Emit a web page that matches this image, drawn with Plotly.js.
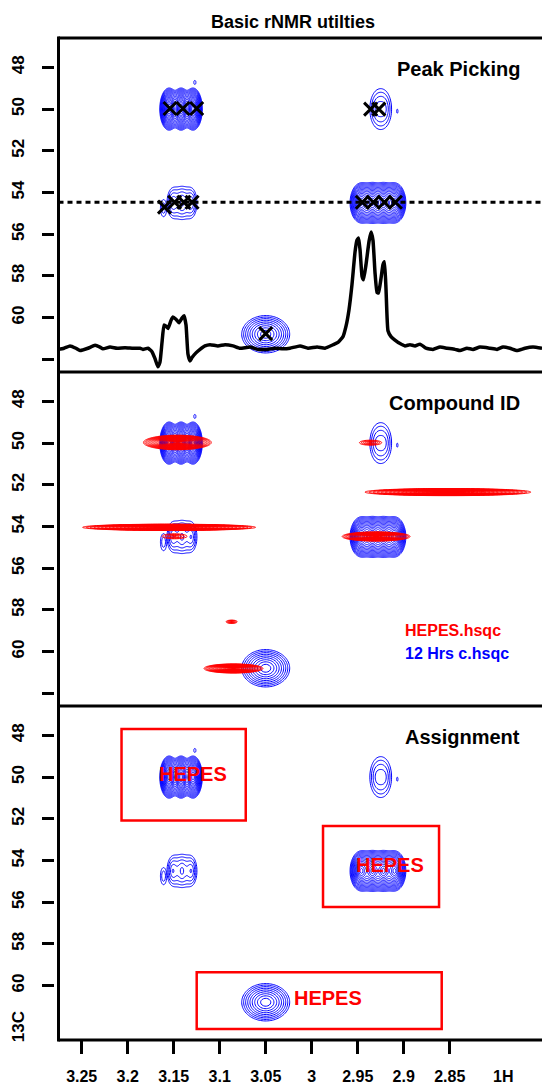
<!DOCTYPE html>
<html><head><meta charset="utf-8">
<script src="https://cdn.plot.ly/plotly-3.0.1.min.js"></script>
<style>html,body{margin:0;padding:0;background:#fff;} #chart{width:542px;height:1087px;}</style>
</head><body><div id="chart"></div>
<script>
// ---------------- data ----------------
const chartTitle = 'Basic rNMR utilties';
const panelTitles = ['Peak Picking', 'Compound ID', 'Assignment'];
const xTickVals = [3.25, 3.2, 3.15, 3.1, 3.05, 3.0, 2.95, 2.9, 2.85];
const xTickText = ['3.25', '3.2', '3.15', '3.1', '3.05', '3', '2.95', '2.9', '2.85'];
const yTickVals = [48, 50, 52, 54, 56, 58, 60, 62];
const yTickText = ['48', '50', '52', '54', '56', '58', '60', ''];
const yTickVals3 = [48, 50, 52, 54, 56, 58, 60];
const yTickText3 = ['48', '50', '52', '54', '56', '58', '60'];
const xAxisName = '1H';
const yAxisName = '13C';

// 12 Hrs c.hsqc (blue) peak lobes
const hsqcPeakId   = ['A','A','A','A0','B','B','B','B0','C','C','C0','D','D','D','D','E'];
const hsqcPeak1H   = [3.155,3.142,3.129,3.127, 3.151,3.141,3.131,3.161, 2.929,2.921,2.907, 2.946,2.934,2.922,2.910, 3.050];
const hsqcPeak13C  = [50.0,50.0,50.0,48.72, 54.5,54.5,54.5,54.75, 50.0,50.0,50.1, 54.5,54.5,54.5,54.5, 60.8];
const hsqcWidth1H  = [0.0033,0.0033,0.0033,0.003, 0.0055,0.0055,0.0055,0.005, 0.008,0.008,0.002, 0.0045,0.0045,0.0045,0.0045, 0.0128];
const hsqcWidth13C = [0.33,0.33,0.33,0.25, 0.6,0.6,0.6,0.6, 0.8,0.8,0.25, 0.35,0.35,0.35,0.35, 0.44];
const hsqcHeight   = [120,120,120,1.3, 3.2,3.2,3.2,1.8, 2.2,2.2,1.3, 60,60,60,60, 15];

// HEPES.hsqc (red) peaks
const hepesPeakId   = ['R1','R2','R2b','R3','R4','R5','R6','R7'];
const hepesPeak1H   = [3.146, 3.155, 3.149, 2.936, 2.852, 2.930, 3.087, 3.085];
const hepesPeak13C  = [49.97, 54.04, 54.47, 49.98, 52.35, 54.48, 58.57, 60.81];
const hepesWidth1H  = [0.008, 0.0204, 0.0148, 0.011, 0.022, 0.008, 0.0055, 0.0073];
const hepesWidth13C = [0.076, 0.033, 0.13, 0.11, 0.042, 0.048, 0.073, 0.05];
const hepesHeight   = [100, 100, 2.5, 3, 60, 100, 3, 80];

// picked peaks (X markers)
const pick1H  = [3.154,3.140,3.125, 3.160,3.149,3.139,3.130, 2.936,2.927, 2.945,2.933,2.921,2.909, 3.050];
const pick13C = [49.97,49.97,49.97, 54.70,54.47,54.47,54.47, 50.0,50.0, 54.47,54.47,54.47,54.47, 60.77];

// 1D slice at 13C = 54.47
const slice13C = 54.47;
const slice1H = [3.2758,3.2692,3.2627,3.2562,3.2518,3.2432,3.2355,3.2301,3.2268,3.2192,3.2116,3.2029,3.1942,3.1866,3.1834,3.1779,3.1736,3.1703,3.1671,3.1649,3.1627,3.1605,3.1584,3.1562,3.1529,3.1508,3.1475,3.1442,3.1410,3.1388,3.1366,3.1345,3.1323,3.1301,3.1258,3.1214,3.1160,3.1105,3.1019,3.0942,3.0855,3.0779,3.0671,3.0584,3.0486,3.0399,3.0312,3.0236,3.0127,3.0040,2.9942,2.9855,2.9768,2.9714,2.9660,2.9627,2.9595,2.9562,2.9529,2.9508,2.9491,2.9475,2.9453,2.9437,2.9410,2.9377,2.9355,2.9334,2.9312,2.9290,2.9274,2.9247,2.9225,2.9209,2.9192,2.9171,2.9138,2.9095,2.9040,2.8986,2.8932,2.8877,2.8823,2.8758,2.8682,2.8605,2.8529,2.8442,2.8388,2.8312,2.8247,2.8171,2.8062,2.7986,2.7921,2.7845,2.7769,2.7682,2.7595,2.7497];
const sliceIntensity = [-0.01,0.0,0.02,0.0,-0.02,0.0,0.025,0.01,-0.005,0.01,0.0,0.005,0.0,0.0,-0.01,0.0,-0.03,-0.09,-0.16,-0.12,0.05,0.20,0.19,0.17,0.24,0.27,0.25,0.22,0.26,0.28,0.20,-0.05,-0.11,-0.08,-0.04,-0.01,0.02,0.03,0.02,0.03,0.02,0.0,0.01,-0.01,-0.01,0.0,-0.005,0.0,0.02,0.0,0.01,0.0,0.03,0.05,0.10,0.19,0.33,0.55,0.83,0.93,0.95,0.85,0.62,0.59,0.72,0.92,1.0,0.93,0.65,0.48,0.475,0.6,0.72,0.745,0.5,0.15,0.1,0.07,0.04,0.02,0.03,0.02,0.035,0.0,-0.01,0.01,0.0,-0.01,-0.02,0.0,-0.01,0.01,0.0,-0.01,0.01,0.0,-0.02,0.0,0.01,0.0];

// assignment boxes and labels
const box1H0  = [3.2067, 2.9877, 3.125];
const box1H1  = [3.0717, 2.8616, 2.8587];
const box13C0 = [47.69, 52.35, 59.36];
const box13C1 = [52.08, 56.23, 62.08];
const assignText = ['HEPES', 'HEPES', 'HEPES'];
const assign1H  = [3.129, 2.915, 2.982];
const assign13C = [49.85, 54.22, 60.6];

const legendText   = ['HEPES.hsqc', '12 Hrs c.hsqc'];
const legendColors = ['#FF0000', '#0000FF'];

// ---------------- helpers ----------------
const X_RANGE = [3.2752, 2.7497];
const Y_RANGE = [62.61, 46.59];
const FONT = 'Liberation Sans, Arial, Helvetica, sans-serif';
const BLUE = '#0000FF', RED = '#FF0000';

function groupIdx(ids) {
  const g = {}; const order = [];
  ids.forEach((n, i) => { if (!g[n]) { g[n] = []; order.push(n); } g[n].push(i); });
  return order.map(n => g[n]);
}
function peakField(idx, cx, cy, wx, wy, amp, p) {
  let x0 = Infinity, x1 = -Infinity, y0 = Infinity, y1 = -Infinity, mwx = Infinity, mwy = Infinity, amax = 0;
  idx.forEach(i => {
    const R = Math.pow(Math.log(amp[i]), 1 / p) * 1.3 + 1.5;
    x0 = Math.min(x0, cx[i] - wx[i] * R); x1 = Math.max(x1, cx[i] + wx[i] * R);
    y0 = Math.min(y0, cy[i] - wy[i] * R); y1 = Math.max(y1, cy[i] + wy[i] * R);
    mwx = Math.min(mwx, wx[i]); mwy = Math.min(mwy, wy[i]);
  });
  const nx = Math.min(420, Math.ceil((x1 - x0) / (mwx / 8)) + 1);
  const ny = Math.min(320, Math.ceil((y1 - y0) / (mwy / 8)) + 1);
  const xs = [], ys = [], z = [];
  for (let i = 0; i < nx; i++) xs.push(x0 + (x1 - x0) * i / (nx - 1));
  for (let j = 0; j < ny; j++) ys.push(y0 + (y1 - y0) * j / (ny - 1));
  for (let j = 0; j < ny; j++) {
    const row = [];
    for (let i = 0; i < nx; i++) {
      let s = 0;
      idx.forEach(k => {
        const q = Math.pow((xs[i] - cx[k]) / wx[k], 2) + Math.pow((ys[j] - cy[k]) / wy[k], 2);
        s += amp[k] * Math.exp(-Math.pow(q, p / 2));
      });
      const v = Math.log(Math.max(s, 1e-12));
      row.push(v); if (v > amax) amax = v;
    }
    z.push(row);
  }
  return { xs, ys, z, zmax: amax };
}
function contourTraces(ids, cx, cy, wx, wy, amp, p, color, yax, step) {
  return groupIdx(ids).map(idx => {
    const f = peakField(idx, cx, cy, wx, wy, amp, p);
    return {
      type: 'contour', x: f.xs, y: f.ys, z: f.z, xaxis: 'x', yaxis: yax,
      autocontour: false,
      contours: { coloring: 'none', start: 0, end: Math.max(0.001, f.zmax - 0.01), size: step, showlabels: false },
      line: { color: color, width: 1, smoothing: 1 },
      showscale: false, hoverinfo: 'skip', showlegend: false
    };
  });
}

// ---------------- traces ----------------
const traces = [];
['y', 'y2', 'y3'].forEach(ya => {
  traces.push(...contourTraces(hsqcPeakId, hsqcPeak1H, hsqcPeak13C, hsqcWidth1H, hsqcWidth13C, hsqcHeight, 1.4, BLUE, ya, 0.3));
});
traces.push(...contourTraces(hepesPeakId, hepesPeak1H, hepesPeak13C, hepesWidth1H, hepesWidth13C, hepesHeight, 1.0, RED, 'y2', 0.2));

// 1D slice
traces.push({
  type: 'scatter', mode: 'lines', x: slice1H, y: sliceIntensity, xaxis: 'x', yaxis: 'y4',
  line: { color: '#000', width: 3.5, shape: 'spline', smoothing: 0.4 }, hoverinfo: 'skip', showlegend: false
});
// picked peaks
traces.push({
  type: 'scatter', mode: 'markers', x: pick1H, y: pick13C, xaxis: 'x', yaxis: 'y',
  marker: { symbol: 'x-thin', size: 13, line: { color: '#000', width: 3 } },
  hoverinfo: 'skip', showlegend: false
});

// ---------------- layout ----------------
const ML = 54, MT = 38, MB = 47, W = 542, H = 1087;
const PW = W - ML, PH = H - MT - MB;
const xl = (58.5 - ML) / PW;

const yCommon = {
  anchor: 'free', position: 0, range: Y_RANGE, autorange: false,
  tickmode: 'array', tickangle: -90, ticks: 'outside', ticklen: 12, tickwidth: 3, tickcolor: '#000',
  showline: false, showgrid: false, zeroline: false, ticklabelstandoff: 11,
  tickfont: { family: FONT, size: 17, color: '#000', weight: 'bold' }
};

const shapes = [];
shapes.push({ type: 'line', xref: 'paper', yref: 'paper', x0: xl, x1: xl, y0: -0.0015, y1: 1.0015, line: { color: '#000', width: 3 } });
[0, 1/3, 2/3, 1].forEach(yy => shapes.push({ type: 'line', xref: 'paper', yref: 'paper', x0: xl, x1: 1.05, y0: yy, y1: yy, line: { color: '#000', width: 3 } }));
shapes.push({ type: 'line', xref: 'x', yref: 'y', x0: X_RANGE[0], x1: X_RANGE[1], y0: slice13C, y1: slice13C, line: { color: '#000', width: 3, dash: '5px,4px' } });
box1H0.forEach((v, i) => shapes.push({ type: 'rect', xref: 'x', yref: 'y3', x0: box1H0[i], x1: box1H1[i], y0: box13C0[i], y1: box13C1[i], line: { color: RED, width: 2.5 } }));

const annotations = [];
annotations.push({ text: chartTitle, xref: 'paper', yref: 'paper', x: (293 - ML) / PW, y: (H - MB - 22) / PH, xanchor: 'center', yanchor: 'middle', showarrow: false, font: { family: FONT, size: 18, color: '#000', weight: 'bold' } });
['y', 'y2', 'y3'].forEach((ya, i) => annotations.push({ text: panelTitles[i], xref: 'paper', yref: ya, x: (522 - ML) / PW, y: 48.1, xanchor: 'right', yanchor: 'middle', showarrow: false, font: { family: FONT, size: 20, color: '#000', weight: 'bold' } }));
legendText.forEach((t, i) => annotations.push({ text: t, xref: 'x', yref: 'y2', x: 2.9010, y: 59.01 + i * 1.1, xanchor: 'left', yanchor: 'middle', showarrow: false, font: { family: FONT, size: 16, color: legendColors[i], weight: 'bold' } }));
assignText.forEach((t, i) => annotations.push({ text: t, xref: 'x', yref: 'y3', x: assign1H[i], y: assign13C[i], xanchor: 'center', yanchor: 'middle', showarrow: false, font: { family: FONT, size: 20, color: RED, weight: 'bold' } }));
annotations.push({ text: xAxisName, xref: 'x', yref: 'paper', x: 2.792, y: (H - MB - 1076) / PH, xanchor: 'center', yanchor: 'middle', showarrow: false, font: { family: FONT, size: 16, color: '#000', weight: 'bold' } });
annotations.push({ text: yAxisName, xref: 'paper', yref: 'y3', x: (18 - ML) / PW, y: 62, xanchor: 'center', yanchor: 'middle', textangle: -90, showarrow: false, font: { family: FONT, size: 17, color: '#000', weight: 'bold' } });

const layout = {
  width: W, height: H, margin: { l: ML, r: 0, t: MT, b: MB, pad: 0 },
  paper_bgcolor: '#fff', plot_bgcolor: 'rgba(0,0,0,0)', showlegend: false,
  font: { family: FONT, color: '#000' },
  xaxis: {
    domain: [xl, 1], anchor: 'y3', range: X_RANGE, autorange: false,
    tickmode: 'array', tickvals: xTickVals, ticktext: xTickText,
    ticks: 'outside', ticklen: 13, tickwidth: 3, tickcolor: '#000',
    showline: false, showgrid: false, zeroline: false, ticklabelstandoff: 9,
    tickfont: { family: FONT, size: 16, color: '#000', weight: 'bold' }
  },
  yaxis: Object.assign({}, yCommon, { domain: [2/3, 1], tickvals: yTickVals, ticktext: yTickText }),
  yaxis2: Object.assign({}, yCommon, { domain: [1/3, 2/3], tickvals: yTickVals, ticktext: yTickText }),
  yaxis3: Object.assign({}, yCommon, { domain: [0, 1/3], tickvals: yTickVals3, ticktext: yTickText3 }),
  yaxis4: { overlaying: 'y', anchor: 'x', range: [(61.47 - Y_RANGE[0]) / 5.57, (61.47 - Y_RANGE[1]) / 5.57], autorange: false, visible: false, showgrid: false, zeroline: false },
  shapes: shapes, annotations: annotations
};

Plotly.newPlot('chart', traces, layout, { displayModeBar: false, staticPlot: true });
</script>
</body></html>
